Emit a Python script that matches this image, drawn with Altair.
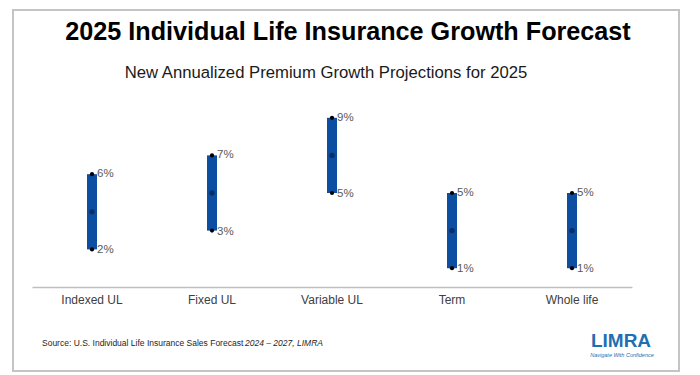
import altair as alt
import pandas as pd

categories = ["Indexed UL", "Fixed UL", "Variable UL", "Term", "Whole life"]
low = [2, 3, 5, 1, 1]
high = [6, 7, 9, 5, 5]
mid = [4, 5, 7, 3, 3]

title_text = "2025 Individual Life Insurance Growth Forecast"
subtitle_text = "New Annualized Premium Growth Projections for 2025"
source_regular = "Source: U.S. Individual Life Insurance Sales Forecast"
source_italic = "2024 \u2013 2027, LIMRA"
logo_text = "LIMRA"
logo_tag = "Navigate With Confidence"

df = pd.DataFrame({
    "cat": categories,
    "low": low,
    "high": high,
    "mid": mid,
    "low_label": [f"{v}%" for v in low],
    "high_label": [f"{v}%" for v in high],
})

FONT = "Liberation Sans"
xenc = alt.X("cat:N", sort=categories,
             scale=alt.Scale(paddingInner=0, paddingOuter=0),
             axis=alt.Axis(title=None, labelAngle=0, ticks=False, domainColor="#bfbfbf",
                           domainWidth=1.5, labelFontSize=12, labelColor="#404040",
                           labelPadding=7, labelFont=FONT))
yscale = alt.Scale(domain=[0, 10])

base = alt.Chart(df)

border = alt.Chart(alt.Data(values=[{}])).mark_rect(
    filled=False, stroke="#c4c4c4", strokeWidth=2, clip=False
).encode(x=alt.value(-19), x2=alt.value(647), y=alt.value(-89), y2=alt.value(272))

bars = base.mark_bar(size=10, color="#0b4ea2").encode(
    x=xenc,
    y=alt.Y("low:Q", scale=yscale, axis=None),
    y2="high:Q",
)
top_pts = base.mark_circle(size=18, color="#000000", opacity=1).encode(
    x=alt.X("cat:N", sort=categories), y=alt.Y("high:Q", scale=yscale))
bot_pts = base.mark_circle(size=18, color="#000000", opacity=1).encode(
    x=alt.X("cat:N", sort=categories), y=alt.Y("low:Q", scale=yscale))
mid_pts = base.mark_circle(size=28, color="#0a2d66", opacity=1).encode(
    x=alt.X("cat:N", sort=categories), y=alt.Y("mid:Q", scale=yscale))

top_lbl = base.mark_text(align="left", baseline="middle", dx=5, fontSize=11.5,
                         color="#595959", font=FONT).encode(
    x=alt.X("cat:N", sort=categories), y=alt.Y("high:Q", scale=yscale), text="high_label:N")
bot_lbl = base.mark_text(align="left", baseline="middle", dx=5, dy=1, fontSize=11.5,
                         color="#595959", font=FONT).encode(
    x=alt.X("cat:N", sort=categories), y=alt.Y("low:Q", scale=yscale), text="low_label:N")

def note(text, x, y, **kw):
    return alt.Chart(alt.Data(values=[{}])).mark_text(**kw).encode(
        x=alt.value(x), y=alt.value(y), text=alt.value(text))

title = note(title_text, 316, -67, fontSize=25.2, fontWeight="bold", font=FONT,
             color="#000000", align="center", baseline="middle")
subtitle = note(subtitle_text, 294, -26, fontSize=16.7, font=FONT, color="#1a1a1a",
                align="center", baseline="middle")
src1 = note(source_regular, 10, 244, fontSize=8.5, font=FONT, color="#262626",
            align="left", baseline="middle")
src2 = note(source_italic, 213, 244, fontSize=8.5, font=FONT, fontStyle="italic",
            color="#262626", align="left", baseline="middle")
logo = note(logo_text, 589, 242, fontSize=19, fontWeight="bold", font=FONT,
            color="#1f6fb2", align="center", baseline="middle")
tag = note(logo_tag, 590, 256, fontSize=5.5, font=FONT, fontStyle="italic",
           color="#1f6fb2", align="center", baseline="middle")

chart = alt.layer(
    border, bars, top_pts, bot_pts, mid_pts, top_lbl, bot_lbl,
    title, subtitle, src1, src2, logo, tag
).properties(
    width=600, height=188,
    background="#ffffff",
    autosize=alt.AutoSizeParams(type="none"),
    padding={"left": 24, "top": 91, "right": 60, "bottom": 88},
).configure_view(stroke=None)

chart.save("out.html", embed_options={"renderer": "svg", "actions": False})
